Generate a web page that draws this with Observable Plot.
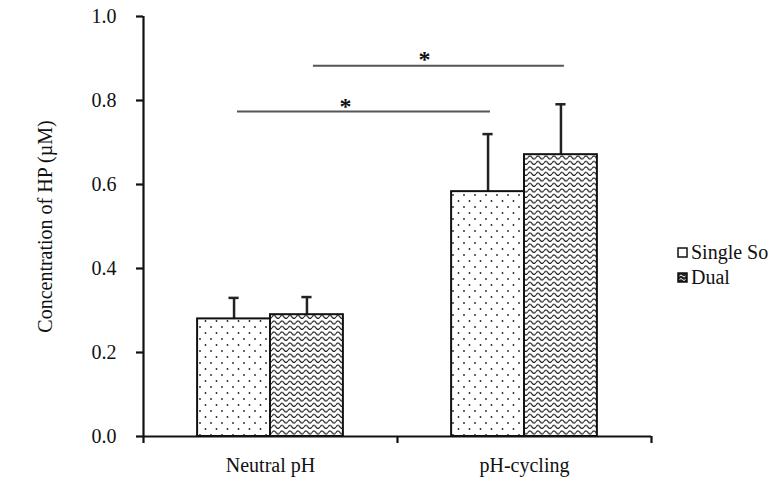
<!DOCTYPE html>
<html>
<head>
<meta charset="utf-8">
<script src="https://cdn.jsdelivr.net/npm/d3@7"></script>
<script src="https://cdn.jsdelivr.net/npm/@observablehq/plot@0.6"></script>
<style>
  body { margin: 0; background: #fff; font-family: 'Liberation Serif', serif; }
  #wrap { position: relative; width: 782px; height: 477px; }
  #wrap svg text { font-family: 'Liberation Serif', serif; }
  #legend { position: absolute; left: 677px; top: 240px; font-size: 20px; color: #111; font-family: 'Liberation Serif', serif; }
  #legend div { display: flex; align-items: center; height: 25px; white-space: nowrap; }
  #legend svg { margin-right: 3px; }
</style>
</head>
<body>
<div id="wrap"><div id="legend"></div></div>
<script>
const categories = ["Neutral pH", "pH-cycling"];
const series = ["Single So", "Dual"];
const singleValues = [0.28, 0.583];
const singleErrors = [0.05, 0.137];
const dualValues = [0.29, 0.671];
const dualErrors = [0.042, 0.12];
const yTicks = [0, 0.2, 0.4, 0.6, 0.8, 1.0];
const yLabel = "Concentration of HP (µM)";
// significance brackets: x in category units (0..2), y in µM
const sigX1 = [0.37, 0.669];
const sigX2 = [1.366, 1.657];
const sigY = [0.774, 0.883];
const starX = [0.795, 1.106];
const starY = [0.787, 0.897];

const barHalf = 0.287;
const capHalf = 0.02;
const patterns = {"Single So": "url(#dots)", "Dual": "url(#waves)"};
const bars = [];
categories.forEach((c, i) => {
  bars.push({cat: c, series: "Single So", x1: i + 0.5 - barHalf, x2: i + 0.5, v: singleValues[i], e: singleErrors[i]});
  bars.push({cat: c, series: "Dual", x1: i + 0.5, x2: i + 0.5 + barHalf, v: dualValues[i], e: dualErrors[i]});
});
bars.forEach(d => { d.xm = (d.x1 + d.x2) / 2; d.top = d.v + d.e; d.c1 = d.xm - capHalf; d.c2 = d.xm + capHalf; });
const sig = sigX1.map((x1, i) => ({x1, x2: sigX2[i], y: sigY[i], sx: starX[i], sy: starY[i]}));
const font = "'Liberation Serif', serif";

const chart = Plot.plot({
  width: 782, height: 477,
  marginLeft: 143, marginRight: 131, marginTop: 16, marginBottom: 41,
  style: {fontFamily: font, fontSize: "20px", color: "#111", background: "white"},
  x: {type: "linear", domain: [0, 2], axis: null},
  y: {type: "linear", domain: [0, 1], axis: null},
  marks: [
    Plot.ruleX(bars, {x: "xm", y1: "v", y2: "top", stroke: "#222", strokeWidth: 2.5}),
    Plot.ruleY(bars, {x1: "c1", x2: "c2", y: "top", stroke: "#222", strokeWidth: 2.5}),
    Plot.rectY(bars, {x1: "x1", x2: "x2", y1: 0, y2: "v", fill: d => patterns[d.series], stroke: "#111", strokeWidth: 2}),
    Plot.ruleY(sig, {x1: "x1", x2: "x2", y: "y", stroke: "#555", strokeWidth: 2}),
    Plot.text(sig, {x: "sx", y: "sy", text: () => "*", fontSize: 24, fontWeight: "bold", fill: "#111", fontFamily: font}),
    Plot.ruleX([0], {y1: 0, y2: 1, stroke: "#111", strokeWidth: 2.2}),
    Plot.ruleY([0], {stroke: "#111", strokeWidth: 2.2}),
    Plot.axisY({ticks: yTicks, tickFormat: d => d.toFixed(1), tickSize: 7, tickPadding: 20, fontSize: 20, fontFamily: font, strokeWidth: 2.2, label: null, stroke: "#111"}),
    Plot.axisX({ticks: [0, 1, 2], tickFormat: () => "", tickSize: 7, strokeWidth: 2.2, label: null, stroke: "#111"}),
    Plot.text(categories, {x: (d, i) => i + 0.5, y: 0, dy: 29, fontSize: 20, fill: "#111", fontFamily: font}),
    Plot.text([yLabel], {frameAnchor: "left", textAnchor: "middle", rotate: -90, dx: -98, fontSize: 20, fill: "#111", fontFamily: font})
  ]
});

const svg = d3.select(chart);
const defs = svg.insert("defs", ":first-child");
const dots = defs.append("pattern").attr("id", "dots").attr("patternUnits", "userSpaceOnUse")
  .attr("width", 11).attr("height", 12);
dots.append("rect").attr("width", 11).attr("height", 12).attr("fill", "white");
dots.append("circle").attr("cx", 2).attr("cy", 3).attr("r", 0.9).attr("fill", "#222");
dots.append("circle").attr("cx", 7.5).attr("cy", 9).attr("r", 0.9).attr("fill", "#222");
const waves = defs.append("pattern").attr("id", "waves").attr("patternUnits", "userSpaceOnUse")
  .attr("width", 8).attr("height", 5.5);
waves.append("rect").attr("width", 8).attr("height", 5.5).attr("fill", "white");
waves.append("path").attr("d", "M0,3.5 Q2,0.5 4,3.5 T8,3.5").attr("fill", "none").attr("stroke", "#111").attr("stroke-width", 1.1);

document.getElementById("wrap").prepend(chart);

// legend
const legendFill = {"Single So": "white", "Dual": "#222"};
const leg = document.getElementById("legend");
series.forEach(s => {
  const row = document.createElement("div");
  row.innerHTML = `<svg width="11" height="11"><rect x="1" y="1" width="9" height="9" fill="${legendFill[s]}" stroke="#111" stroke-width="1.5"/>` +
    (s === "Dual" ? `<path d="M2.5,4 Q4,2 5.5,4 T8.5,4 M2.5,7.5 Q4,5.5 5.5,7.5 T8.5,7.5" fill="none" stroke="white" stroke-width="1"/>` : "") +
    `</svg><span>${s}</span>`;
  leg.appendChild(row);
});
</script>
</body>
</html>
